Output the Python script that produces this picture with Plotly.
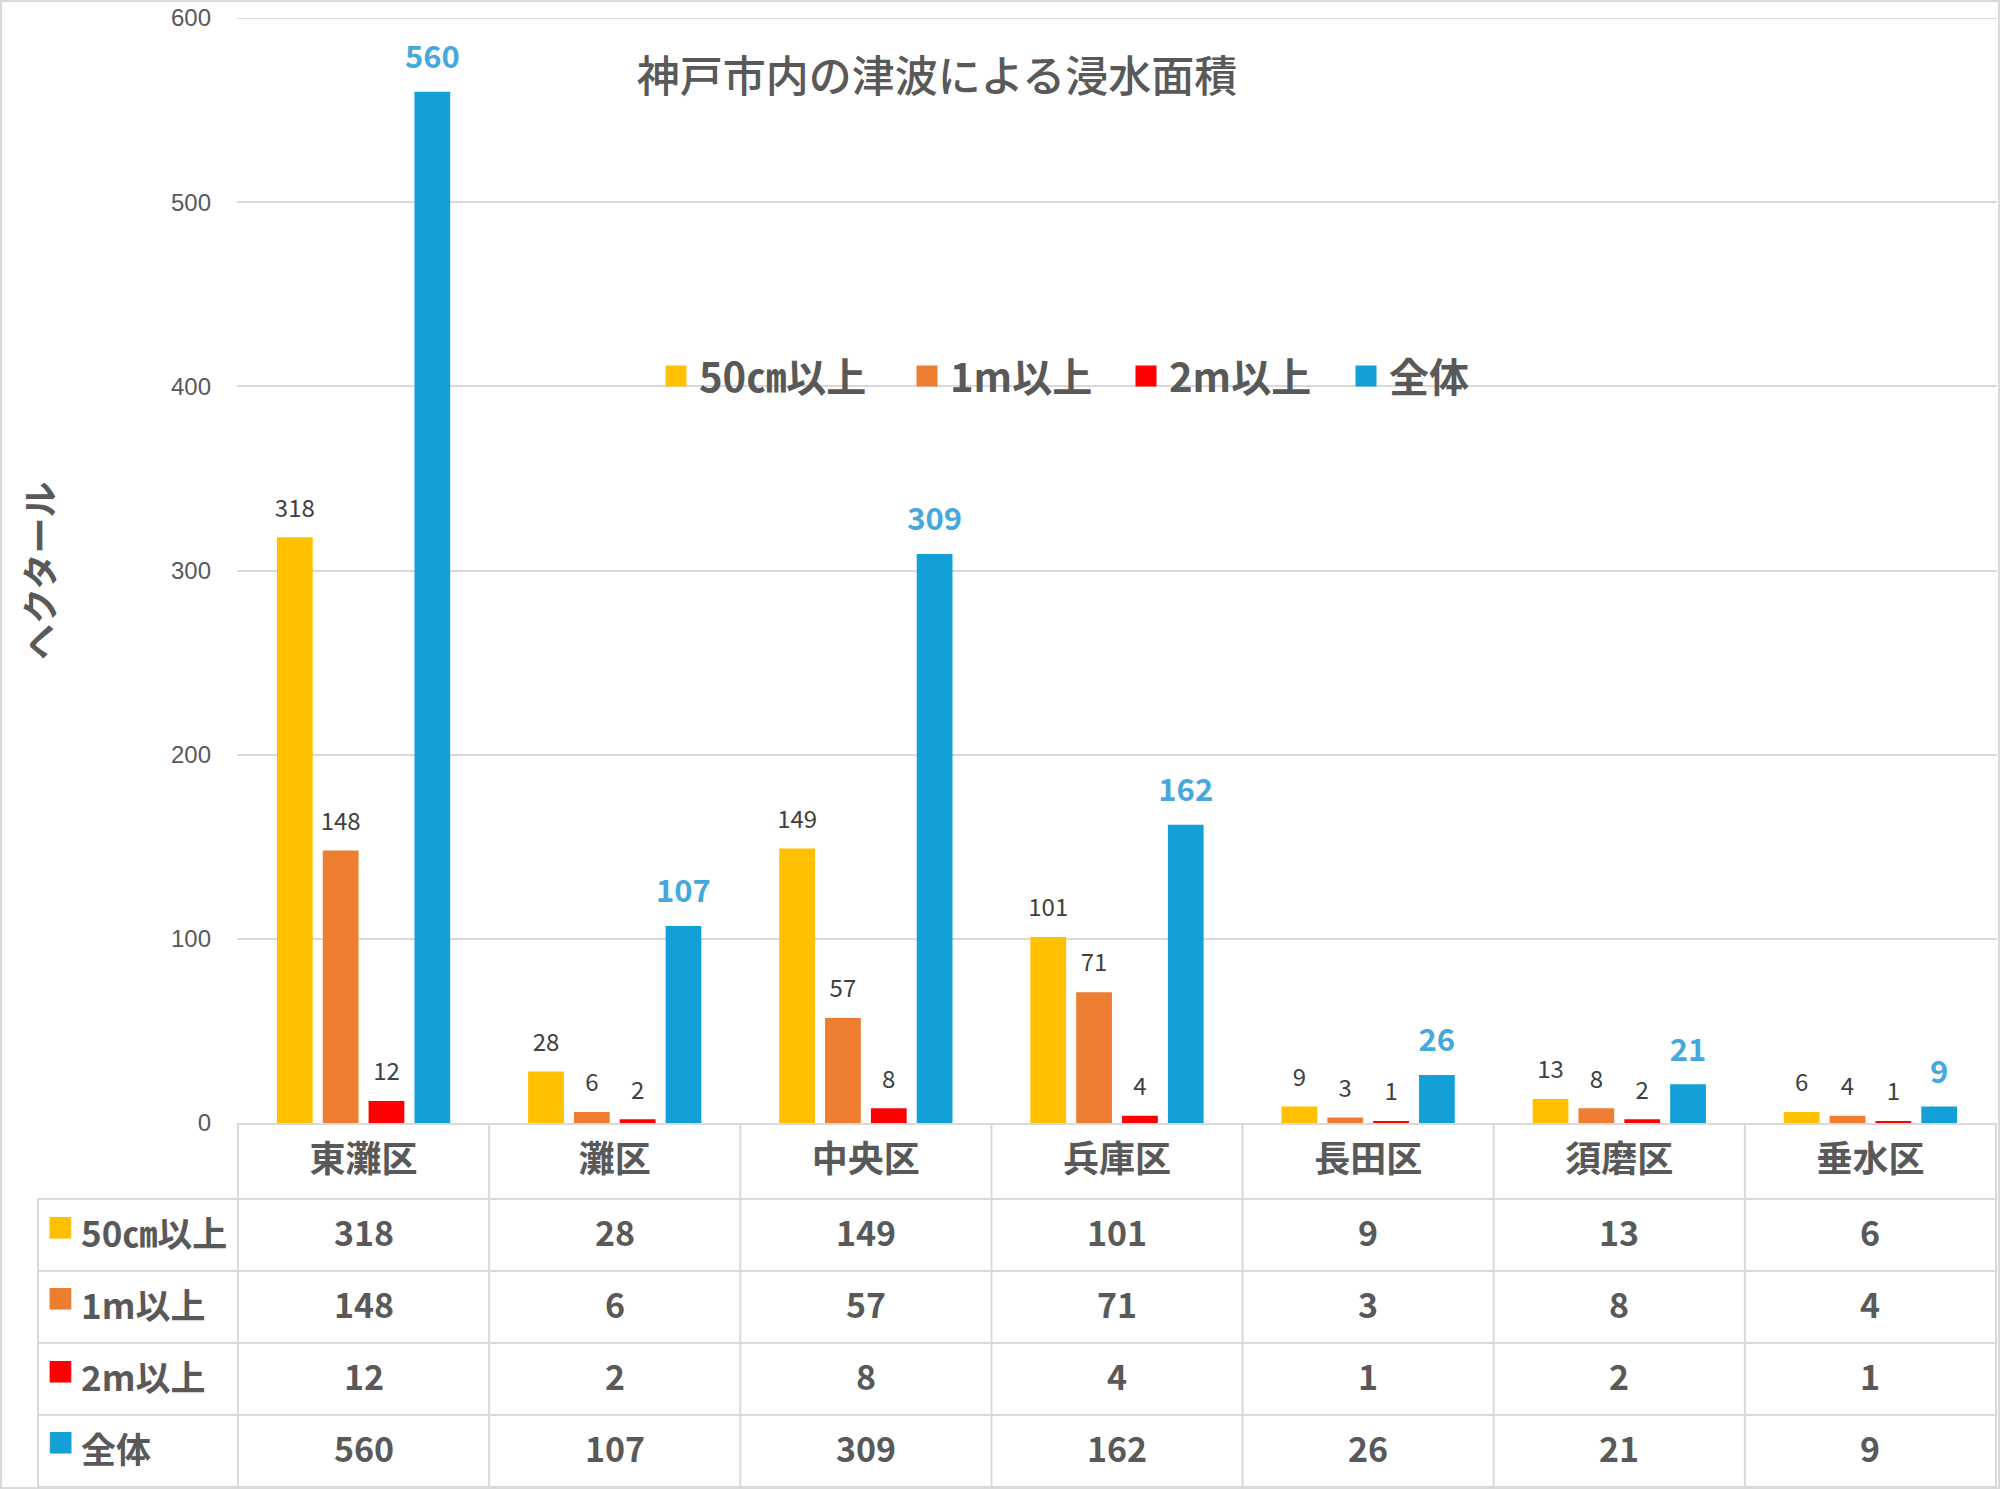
import plotly.graph_objects as go

# ---- data ----
districts = ["東灘区", "灘区", "中央区", "兵庫区", "長田区", "須磨区", "垂水区"]
series_names = ["50㎝以上", "1m以上", "2m以上", "全体"]
over_50cm = [318, 28, 149, 101, 9, 13, 6]
over_1m = [148, 6, 57, 71, 3, 8, 4]
over_2m = [12, 2, 8, 4, 1, 2, 1]
total = [560, 107, 309, 162, 26, 21, 9]
y_ticks = [0, 100, 200, 300, 400, 500, 600]
title_text = "神戸市内の津波による浸水面積"
y_title = "ヘクタール"

series = [over_50cm, over_1m, over_2m, total]
colors = ["#FFC000", "#ED7D31", "#FF0000", "#12A0D7"]

FONT = "Noto Sans CJK JP"
GRAY = "#595959"
LINE = "#D9D9D9"

W, H = 2000, 1489
ML, MR, MT, MB = 237, 3, 18, 366
PW = W - ML - MR
PH = H - MT - MB


def px_x(px):
    return (px - ML) / PW


def px_y(py):
    return (H - MB - py) / PH


fig = go.Figure()

# bars
for i, (name, vals, col) in enumerate(zip(series_names, series, colors)):
    fig.add_trace(go.Bar(x=districts, y=vals, name=name, offsetgroup=str(i),
                         marker=dict(color=col, line=dict(width=0)), showlegend=False))

# data labels (grouped scatter text aligned with bars)
for i, (name, vals, col) in enumerate(zip(series_names, series, colors)):
    is_total = i == 3
    fig.add_trace(go.Scatter(
        x=districts, y=vals, mode="markers+text", text=[str(v) for v in vals],
        textposition="top center", offsetgroup=str(i), cliponaxis=False,
        marker=dict(size=24 if is_total else 22, color="rgba(0,0,0,0)"),
        textfont=dict(family=FONT, size=31 if is_total else 24,
                      color="#45A8DC" if is_total else "#404040",
                      weight="bold" if is_total else "normal"),
        showlegend=False, hoverinfo="skip"))

# legend entries (one legend per entry, placed like the reference)
legend_square_centers = [673, 924, 1143, 1363]
legend_names = ["legend", "legend2", "legend3", "legend4"]
for name, col, lg in zip(series_names, colors, legend_names):
    fig.add_trace(go.Scatter(x=[districts[0]], y=[None], mode="markers", name=name,
                             marker=dict(symbol="square", size=16, color=col,
                                         line=dict(color=col, width=5)),
                             xaxis="x2", yaxis="y2", legend=lg))

shapes = []
# table vertical lines at category boundaries
for k in range(len(districts) + 1):
    shapes.append(dict(type="line", xref="x", yref="paper", x0=k - 0.5, x1=k - 0.5,
                       y0=px_y(1123), y1=px_y(1487), line=dict(color=LINE, width=2)))
# left column border
shapes.append(dict(type="line", xref="paper", yref="paper", x0=px_x(38), x1=px_x(38),
                   y0=px_y(1199), y1=px_y(1487), line=dict(color=LINE, width=2)))
row_lines = [1199, 1271, 1343, 1415, 1487]
for py in row_lines:
    shapes.append(dict(type="line", xref="paper", yref="paper", x0=px_x(38), x1=1,
                       y0=px_y(py), y1=px_y(py), line=dict(color=LINE, width=2)))
# 600 gridline (top edge of the plot)
shapes.append(dict(type="line", xref="paper", yref="y", x0=0, x1=1, y0=y_ticks[-1],
                   y1=y_ticks[-1], line=dict(color=LINE, width=2), layer="below"))
# outer border
shapes.append(dict(type="rect", xref="paper", yref="paper", x0=px_x(1), x1=px_x(1999),
                   y0=px_y(1488), y1=px_y(1), line=dict(color=LINE, width=2)))

annotations = []
row_centers = [(row_lines[i] + row_lines[i + 1]) / 2 for i in range(4)]
for r, (name, vals, col) in enumerate(zip(series_names, series, colors)):
    yc = px_y(row_centers[r] - 4)
    annotations.append(dict(xref="paper", yref="paper", x=px_x(79), y=yc, xanchor="left",
                            yanchor="middle", text=name, showarrow=False,
                            font=dict(family=FONT, size=35, color=GRAY, weight="bold")))
    annotations.append(dict(xref="paper", yref="paper", x=px_x(60), y=px_y(row_centers[r] - 9),
                            xanchor="center", yanchor="middle", text="■", showarrow=False,
                            font=dict(family=FONT, size=27, color=col)))
    for d, v in zip(districts, vals):
        annotations.append(dict(xref="x", yref="paper", x=d, y=yc, xanchor="center",
                                yanchor="middle", text=str(v), showarrow=False,
                                font=dict(family=FONT, size=34, color=GRAY, weight="bold")))

annotations.append(dict(xref="paper", yref="paper", x=px_x(38), y=px_y(571), text=y_title,
                        textangle=-90, showarrow=False, xanchor="center", yanchor="middle",
                        font=dict(family=FONT, size=36, color=GRAY, weight="bold")))

legend_common = dict(orientation="h", xanchor="left", yanchor="middle", y=px_y(376),
                     font=dict(family=FONT, size=40, color=GRAY, weight="bold"),
                     bgcolor="rgba(0,0,0,0)", itemclick=False, itemdoubleclick=False,
                     itemwidth=36)
legends = {}
for lg, cx in zip(legend_names, legend_square_centers):
    legends[lg] = dict(legend_common, x=px_x(cx - 20))

fig.update_layout(
    width=W, height=H,
    margin=dict(l=ML, r=MR, t=MT, b=MB, autoexpand=False),
    paper_bgcolor="white", plot_bgcolor="white",
    font=dict(family=FONT, color=GRAY),
    title=dict(text=title_text, x=px_x(937), xanchor="center", xref="paper",
               y=1 - 77 / H, yanchor="middle",
               font=dict(family=FONT, size=43, color=GRAY, weight=500)),
    barmode="group", bargap=0.27, bargroupgap=0.22,
    scattermode="group", scattergap=0.27,
    xaxis=dict(type="category", showline=True, linecolor=LINE, linewidth=2, ticks="",
               showgrid=False, tickfont=dict(family=FONT, size=36, color=GRAY, weight="bold"),
               ticklabelstandoff=4),
    yaxis=dict(range=[y_ticks[0], y_ticks[-1]], tickmode="array", tickvals=y_ticks,
               ticktext=[str(t) for t in y_ticks], showgrid=True, gridcolor=LINE, gridwidth=2,
               zeroline=False, showline=False, ticks="", ticklabeloverflow="allow",
               tickfont=dict(family="Liberation Sans", size=24, color=GRAY),
               ticklabelstandoff=25),
    xaxis2=dict(overlaying="x", visible=False, type="category"),
    yaxis2=dict(overlaying="y", visible=False, range=[0, 1]),
    shapes=shapes, annotations=annotations,
    **legends,
)

fig.write_html("out.html", config={"displayModeBar": False},
               post_script="document.body.style.margin='0';document.body.style.padding='0';")
